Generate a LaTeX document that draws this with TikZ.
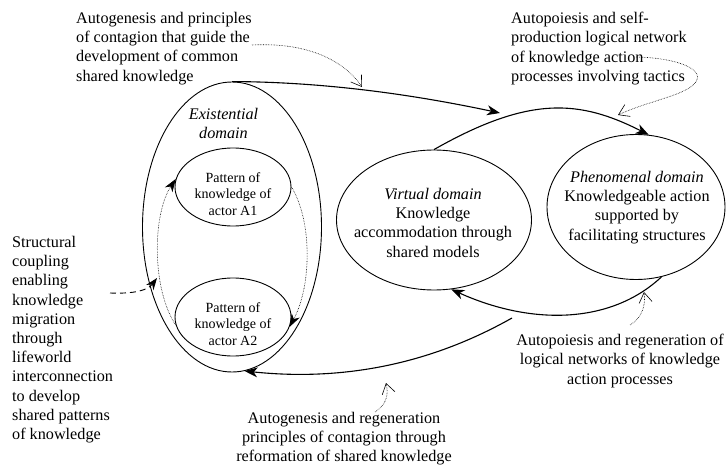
\documentclass[tikz,border=0pt]{standalone}
\usepackage{fontspec}
\setmainfont{Liberation Serif}
\usetikzlibrary{shapes.geometric, arrows.meta}

\begin{document}
\begin{tikzpicture}[x=1pt, y=-1pt,
        ell/.style={draw, ellipse, line width=0.9pt, inner sep=0pt},
        txt/.style={font=\fontsize{16.2}{19.2}\selectfont, inner sep=0pt},
        itxt/.style={font=\fontsize{16.2}{19.2}\selectfont\itshape, inner sep=0pt},
        smalltxt/.style={font=\fontsize{14}{16.6}\selectfont, inner sep=0pt, align=center},
        flowline/.style={line width=1.1pt, -{Stealth[length=13pt,width=10pt,inset=4pt]}},
        innerflow/.style={densely dotted, line width=0.6pt, -{Stealth[length=13pt,width=9pt,inset=4pt]}},
        coupling/.style={line width=0.9pt, dash pattern=on 6pt off 4pt, -{Stealth[length=12pt,width=9pt,inset=4pt]}},
        remark/.style={densely dotted, line width=0.6pt, -{Straight Barb[length=10pt,width=13pt]}}]

    \useasboundingbox (0,0) rectangle (726,468);

        % Domains:
        \node[ell, minimum width=179pt, minimum height=290pt] (exist) at (232,227) {};
        \node[ell, minimum width=116pt, minimum height=78pt] (a1) at (233,187) {};
        \node[ell, minimum width=116pt, minimum height=78pt] (a2) at (233,317) {};
        \node[ell, minimum width=195pt, minimum height=140pt] (virt) at (434,220) {};
        \node[ell, minimum width=178pt, minimum height=145pt] (phen) at (636,207) {};

        \node[itxt, anchor=north, align=center] (existtxt) at (223.5,108) {Existential\\domain};
        \node[smalltxt, anchor=north] (a1txt) at (233,172) {Pattern of\\knowledge of\\actor A1};
        \node[smalltxt, anchor=north] (a2txt) at (233,302) {Pattern of\\knowledge of\\actor A2};
        \node[txt, anchor=north, align=center] (virttxt) at (433,188)
            {\textit{Virtual domain}\\Knowledge\\accommodation through\\shared models};
        \node[txt, anchor=north, align=center] (phentxt) at (637,171)
            {\textit{Phenomenal domain}\\Knowledgeable action\\supported by\\facilitating structures};

        % Notes:
        \node[txt, anchor=north west, align=left] (contagnote) at (76,12)
            {Autogenesis and principles\\of contagion that guide the\\development of common\\shared knowledge};
        \node[txt, anchor=north west, align=left] (tacticnote) at (511,12)
            {Autopoiesis and self-\\production logical network\\of knowledge action\\processes involving tactics};
        \node[txt, anchor=north west, align=left] (couplenote) at (12,236)
            {Structural\\coupling\\enabling\\knowledge\\migration\\through\\lifeworld\\interconnection\\to develop\\shared patterns\\of knowledge};
        \node[txt, anchor=north, align=center] (networknote) at (620,334)
            {Autopoiesis and regeneration of\\logical networks of knowledge\\action processes};
        \node[txt, anchor=north, align=center] (reformnote) at (344,412)
            {Autogenesis and regeneration\\principles of contagion through\\reformation of shared knowledge};

        % Main flows:
        \coordinate (contagend) at (500,113);
        \coordinate (regenstart) at (512,318);
        \draw[flowline] (exist.north) .. controls (330,82) and (420,96) .. (contagend);
        \draw[flowline] (virt.north) .. controls (530,95) and (580,100) .. (phen.80);
        \draw[flowline] (phen.-70) .. controls (610,325) and (530,325) .. (virt.-76);
        \draw[flowline] (regenstart) .. controls (420,370) and (330,380) .. (exist.-85);

        % Inside the existential domain:
        \draw[innerflow] (a1.east) .. controls (312,220) and (312,285) .. (a2.-10);
        \draw[innerflow] (a2.188) .. controls (152,290) and (152,215) .. (a1.172);

        \coordinate (couplestart) at (110,293);
        \coordinate (coupleend) at (157,278);
        \draw[coupling] (couplestart) .. controls (135,294) and (148,290) .. (coupleend);

        % Pointers from the notes:
        \coordinate (n1tail) at (252,45);
        \coordinate (n1tip) at (362,87);
        \coordinate (n2tail) at (636,57);
        \coordinate (n2tip) at (618,115);
        \coordinate (n3tail) at (630,325);
        \coordinate (n3tip) at (644,292);
        \coordinate (n4tail) at (375,412);
        \coordinate (n4tip) at (386,383);
        \draw[remark] (n1tail) .. controls (310,42) and (345,62) .. (n1tip);
        \draw[remark] (n2tail) .. controls (680,58) and (702,70) .. (697,80) .. controls (690,95) and (650,100) .. (n2tip);
        \draw[remark] (n3tail) .. controls (642,318) and (646,305) .. (n3tip);
        \draw[remark] (n4tail) .. controls (386,405) and (389,395) .. (n4tip);
\end{tikzpicture}
\end{document}
